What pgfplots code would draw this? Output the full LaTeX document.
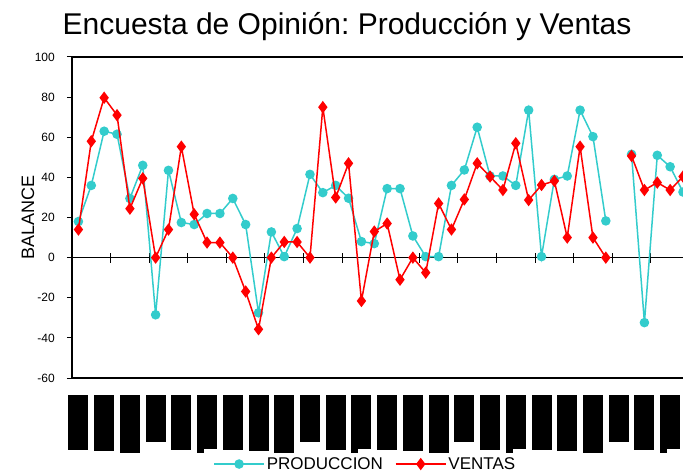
\documentclass[border=0pt]{standalone}
\usepackage{fontspec}
\setmainfont{Liberation Sans}
\usepackage{pgfplots}
\pgfplotsset{compat=1.18}
\usepackage{pgfplotstable}
\definecolor{prod}{RGB}{51,204,204}
\definecolor{vent}{RGB}{255,0,0}
\newcommand\bA{\rule{20bp}{55bp}}
\newcommand\bB{\rule{20bp}{56bp}}
\newcommand\bC{\rule{20bp}{58bp}}
\newcommand\bD{\rule{20bp}{47bp}}
\newcommand\bE{\rule{20bp}{55bp}}
\newcommand\bF{\rule{7bp}{58bp}\rule[4.3bp]{13bp}{53.7bp}}
\pgfplotstableread{
i p v
0 18 14
1 36 58
2 63 79.7
3 61.5 71
4 29.5 24.4
5 46 39.5
6 -28.5 0
7 43.5 14
8 17.5 55.3
9 16.5 21.6
10 22 7.5
11 22 7.5
12 29.5 0
13 16.5 -16.9
14 -27.5 -35.7
15 12.8 0
16 0.5 7.8
17 14.5 7.8
18 41.5 0
19 32.4 75
20 36 30
21 29.6 47
22 8 -21.6
23 7 13
24 34.4 17
25 34.4 -11
26 10.8 0
27 0.5 -7.5
28 0.5 27
29 36 14
30 43.7 29
31 65 47
32 40.7 40.4
33 40.7 33.7
34 36 57
35 73.5 28.7
36 0.5 36.2
37 39 38.2
38 40.7 10
39 73.5 55.3
40 60.3 10
41 18.3 0
42 nan nan
43 51.5 50.7
44 -32.4 33.7
45 51 37.4
46 45.3 33.7
47 32.7 40.4
}\datatable
\begin{document}
\frenchspacing
\begin{tikzpicture}
% zero line with ticks
\begin{axis}[at={(0,0)}, anchor=south west, scale only axis,
  width=611bp, height=321bp,
  xmin=-0.5, xmax=47, ymin=-60, ymax=100,
  axis x line=middle, axis y line=none,
  x axis line style={-, line width=1bp, black},
  xtick={-0.5,2.5,...,44.5},
  xticklabel style={opacity=0, text opacity=0},
  ytick=\empty,
  tick align=center, major tick length=10bp,
  xtick style={line width=1bp, black},
]
\end{axis}
\begin{axis}[at={(0,0)}, anchor=south west, scale only axis,
  width=611bp, height=321bp,
  xmin=-0.5, xmax=47, ymin=-60, ymax=100,
  axis x line=box, axis y line=left,
  axis line style={line width=1.2bp, black},
  x axis line style={-}, y axis line style={-},
  ytick={-60,-40,...,100},
  tick align=outside, major tick length=5bp,
  ytick style={line width=1bp, black},
  yticklabel style={font=\fontsize{12bp}{14bp}\selectfont, inner sep=0pt, anchor=east, xshift=-12bp},
  /pgf/number format/assume math mode=true,
  xtick={0,2,...,46},
  xtick style={draw=none},
  xticklabels={\bA,\bB,\bC,\bD,\bE,\bF,\bA,\bB,\bC,\bD,\bE,\bF,\bA,\bB,\bC,\bD,\bE,\bF,\bA,\bB,\bC,\bD,\bE,\bF},
  xticklabel style={anchor=north, inner sep=0pt, yshift=-12bp},
  ylabel={BALANCE},
  every axis y label/.style={at={(axis description cs:-0.072,0.5)}, rotate=90, anchor=center, font=\fontsize{18bp}{20bp}\selectfont},
  unbounded coords=jump,
  clip marker paths=true,
  legend columns=2,
  legend style={at={(0.480,-0.268)}, anchor=center, draw=none, fill=none,
    font=\fontsize{17bp}{19bp}\selectfont, /tikz/every even column/.append style={column sep=10bp}},
  legend image code/.code={\draw[mark repeat=2,mark phase=2,#1] plot coordinates {(0bp,0bp) (25bp,0bp) (50bp,0bp)};},
]
\addplot[prod, line width=1.5bp, mark=*, mark size=4bp, mark options={solid, fill=prod, draw=prod}] table[x=i, y=p] {\datatable};
\addlegendentry{PRODUCCION}
\addplot[vent, line width=1.5bp, mark=diamond*, mark size=5bp, mark options={solid, fill=vent, draw=vent}] table[x=i, y=v] {\datatable};
\addlegendentry{VENTAS}
\end{axis}
\node[anchor=base, font=\fontsize{30bp}{33bp}\selectfont] at (275bp,343bp) {Encuesta de Opinión: Producción y Ventas};
\pgfresetboundingbox
\useasboundingbox (-72bp,-95bp) rectangle (611bp,378bp);
\end{tikzpicture}
\end{document}
